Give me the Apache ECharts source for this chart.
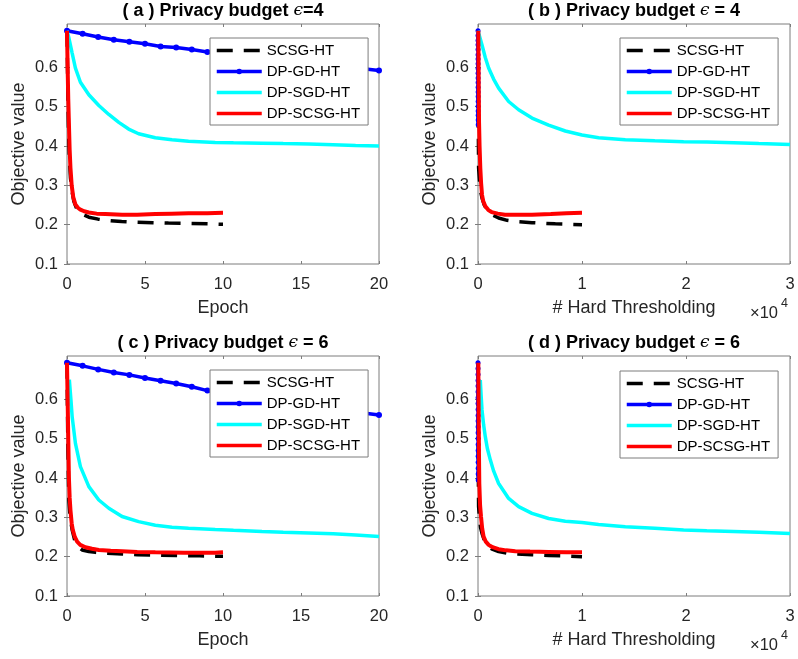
<!DOCTYPE html>
<html>
<head>
<meta charset="utf-8">
<title>Objective value vs epoch / hard thresholding</title>
<script src="https://cdn.jsdelivr.net/npm/echarts@6/dist/echarts.min.js"></script>
<style>
  html, body { margin: 0; padding: 0; background: #fff; }
  #chart { width: 798px; height: 659px; }
</style>
</head>
<body>
<div id="chart"></div>
<script>
// ---- labels ----
const seriesNames = ['SCSG-HT', 'DP-GD-HT', 'DP-SGD-HT', 'DP-SCSG-HT'];
const panelTitles = [
  '( a ) Privacy budget {e|ϵ}=4',
  '( b ) Privacy budget {e|ϵ} = 4',
  '( c ) Privacy budget {e|ϵ} = 6',
  '( d ) Privacy budget {e|ϵ} = 6'
];
const yTicks = [0.1, 0.2, 0.3, 0.4, 0.5, 0.6];
const epochTicks = [0, 5, 10, 15, 20];
const htTicks = [0, 10000, 20000, 30000];

// ---- (a) eps = 4, x = epoch ----
const scsgA_x = [0, 0.05, 0.1, 0.15, 0.22, 0.3, 0.44, 0.6, 0.76, 1.0, 1.4, 2.0, 2.5, 3.5, 4.5, 5.5, 6.5, 7.8, 9, 10];
const scsgA_y = [0.693, 0.55, 0.43, 0.37, 0.32, 0.29, 0.259, 0.243, 0.234, 0.226, 0.219, 0.214, 0.211, 0.208, 0.206, 0.205, 0.204, 0.203, 0.202, 0.201];
const gdA_x = [0, 1, 2, 3, 4, 5, 6, 7, 8, 9, 10, 11, 12, 13, 14, 15, 16, 17, 18, 19, 20];
const gdA_y = [0.693, 0.685, 0.677, 0.670, 0.665, 0.660, 0.653, 0.650, 0.645, 0.639, 0.634, 0.629, 0.625, 0.620, 0.616, 0.612, 0.608, 0.604, 0.600, 0.596, 0.592];
const sgdA_x = [0, 0.12, 0.33, 0.54, 0.86, 1.4, 2.04, 2.68, 3.32, 3.95, 4.59, 5.66, 6.73, 7.79, 9.5, 10.67, 12.5, 13.86, 15.5, 17.06, 18.5, 20];
const sgdA_y = [0.693, 0.675, 0.636, 0.598, 0.562, 0.53, 0.503, 0.48, 0.46, 0.443, 0.431, 0.421, 0.416, 0.412, 0.409, 0.408, 0.407, 0.406, 0.405, 0.403, 0.401, 0.400];
const scsgdpA_x = [0, 0.04, 0.08, 0.12, 0.17, 0.22, 0.3, 0.4, 0.54, 0.7, 0.86, 1.1, 1.4, 1.9, 2.46, 3.53, 4.5, 5.66, 6.7, 7.79, 9, 10];
const scsgdpA_y = [0.693, 0.6, 0.52, 0.46, 0.39, 0.345, 0.3, 0.27, 0.251, 0.243, 0.238, 0.234, 0.231, 0.228, 0.227, 0.225, 0.225, 0.227, 0.228, 0.229, 0.229, 0.230];

// ---- (b) eps = 4, x = # hard thresholding ----
const scsgB_x = [0, 30, 58, 150, 250, 385, 600, 865, 1300, 1984, 2800, 3587, 5192, 7432, 10000];
const scsgB_y = [0.693, 0.45, 0.344, 0.31, 0.285, 0.268, 0.25, 0.238, 0.226, 0.217, 0.211, 0.208, 0.205, 0.202, 0.200];
const gdB_x = [0, 1, 2, 3, 4, 5, 6, 7, 8, 9, 10, 11, 12, 13, 14, 15, 16, 17, 18, 19, 20];
const gdB_y = [0.693, 0.681, 0.668, 0.657, 0.645, 0.632, 0.621, 0.609, 0.597, 0.585, 0.573, 0.561, 0.549, 0.537, 0.526, 0.513, 0.501, 0.489, 0.478, 0.466, 0.454];
const sgdB_x = [0, 125, 385, 700, 1022, 1500, 1984, 2946, 3907, 5192, 6790, 8394, 10000, 11596, 14163, 17000, 19770, 22000, 24577, 27000, 30000];
const sgdB_y = [0.693, 0.688, 0.657, 0.625, 0.598, 0.570, 0.547, 0.513, 0.492, 0.471, 0.453, 0.438, 0.428, 0.421, 0.416, 0.413, 0.411, 0.410, 0.408, 0.406, 0.404];
const scsgdpB_x = [30, 60, 100, 150, 221, 300, 385, 500, 702, 1000, 1308, 1900, 2596, 3500, 5192, 7000, 8500, 10000];
const scsgdpB_y = [0.693, 0.58, 0.46, 0.40, 0.344, 0.305, 0.276, 0.26, 0.247, 0.237, 0.232, 0.228, 0.225, 0.225, 0.225, 0.227, 0.229, 0.230];

// ---- (c) eps = 6, x = epoch ----
const scsgC_x = [0, 0.05, 0.12, 0.2, 0.33, 0.54, 0.75, 0.97, 1.4, 1.82, 2.5, 3.53, 4.5, 5.66, 7, 8.5, 10];
const scsgC_y = [0.693, 0.5, 0.344, 0.3, 0.268, 0.234, 0.224, 0.217, 0.213, 0.211, 0.209, 0.207, 0.205, 0.204, 0.203, 0.202, 0.201];
const gdC_x = [0, 1, 2, 3, 4, 5, 6, 7, 8, 9, 10, 11, 12, 13, 14, 15, 16, 17, 18, 19, 20];
const gdC_y = [0.693, 0.685, 0.676, 0.668, 0.662, 0.654, 0.647, 0.640, 0.632, 0.622, 0.616, 0.610, 0.604, 0.598, 0.592, 0.587, 0.581, 0.576, 0.570, 0.565, 0.560];
const sgdC_x = [0.15, 0.25, 0.33, 0.54, 0.86, 1.4, 2.04, 2.68, 3.53, 4.59, 5.66, 6.73, 7.79, 9.5, 10.67, 12.5, 13.86, 15.5, 17.06, 18.5, 20];
const sgdC_y = [0.650, 0.6, 0.556, 0.488, 0.429, 0.378, 0.344, 0.323, 0.302, 0.289, 0.280, 0.275, 0.272, 0.269, 0.267, 0.264, 0.262, 0.260, 0.258, 0.255, 0.251];
const scsgdpC_x = [0, 0.04, 0.08, 0.12, 0.17, 0.22, 0.3, 0.37, 0.5, 0.65, 0.85, 1.18, 1.6, 2.04, 2.8, 3.53, 4.5, 5.66, 7.5, 9.5, 10];
const scsgdpC_y = [0.693, 0.6, 0.5, 0.403, 0.35, 0.319, 0.285, 0.268, 0.25, 0.238, 0.23, 0.224, 0.22, 0.217, 0.215, 0.214, 0.212, 0.211, 0.210, 0.210, 0.211];

// ---- (d) eps = 6, x = # hard thresholding ----
const scsgD_x = [0, 30, 58, 150, 250, 385, 600, 865, 1300, 1984, 2800, 3587, 5192, 6800, 8394, 10000];
const scsgD_y = [0.693, 0.42, 0.327, 0.295, 0.273, 0.259, 0.242, 0.230, 0.220, 0.213, 0.209, 0.207, 0.205, 0.203, 0.202, 0.200];
const gdD_x = [0, 1, 2, 3, 4, 5, 6, 7, 8, 9, 10, 11, 12, 13, 14, 15, 16, 17, 18, 19, 20];
const gdD_y = [0.693, 0.678, 0.663, 0.648, 0.634, 0.619, 0.604, 0.589, 0.574, 0.559, 0.545, 0.530, 0.515, 0.500, 0.485, 0.470, 0.455, 0.440, 0.425, 0.410, 0.395];
const sgdD_x = [221, 300, 385, 540, 702, 900, 1183, 1500, 1984, 2946, 3907, 5192, 6790, 8394, 10000, 11596, 14163, 17000, 19770, 22000, 24577, 27000, 30000];
const sgdD_y = [0.649, 0.61, 0.573, 0.535, 0.505, 0.475, 0.446, 0.418, 0.386, 0.348, 0.327, 0.310, 0.297, 0.290, 0.287, 0.282, 0.276, 0.272, 0.268, 0.266, 0.264, 0.262, 0.259];
const scsgdpD_x = [30, 60, 90, 125, 200, 288, 400, 538, 750, 1022, 1400, 1984, 2700, 3587, 5000, 6790, 8500, 10000];
const scsgdpD_y = [0.693, 0.58, 0.47, 0.386, 0.33, 0.302, 0.272, 0.251, 0.238, 0.230, 0.224, 0.219, 0.216, 0.214, 0.213, 0.212, 0.211, 0.211];

const panelData = [
  [[scsgA_x, scsgA_y], [gdA_x, gdA_y], [sgdA_x, sgdA_y], [scsgdpA_x, scsgdpA_y]],
  [[scsgB_x, scsgB_y], [gdB_x, gdB_y], [sgdB_x, sgdB_y], [scsgdpB_x, scsgdpB_y]],
  [[scsgC_x, scsgC_y], [gdC_x, gdC_y], [sgdC_x, sgdC_y], [scsgdpC_x, scsgdpC_y]],
  [[scsgD_x, scsgD_y], [gdD_x, gdD_y], [sgdD_x, sgdD_y], [scsgdpD_x, scsgdpD_y]]
];

const FONT = 'Liberation Sans, Arial, sans-serif';
const AXIS_COLOR = '#7d7d7d';
const TEXT_COLOR = '#262626';

const grids = [
  { left: 67, top: 24 },
  { left: 478, top: 24 },
  { left: 67, top: 356 },
  { left: 478, top: 356 }
];
const legendPos = [
  { left: 210, top: 38 },
  { left: 620, top: 38 },
  { left: 210, top: 370 },
  { left: 620, top: 371 }
];

const lineStyles = [
  { color: '#000000', width: 3.5, type: [16, 11] },
  { color: '#0000ff', width: 3.5, type: 'solid' },
  { color: '#00ffff', width: 3.5, type: 'solid' },
  { color: '#ff0000', width: 4, type: 'solid' }
];

function pairs(xs, ys) {
  return xs.map((x, i) => [x, ys[i]]);
}

const isHT = (p) => p % 2 === 1;

const xAxes = [];
const yAxes = [];
const series = [];
const legends = [];
const graphics = [];

// legend entries: only DP-GD-HT keeps its marker
const legendItems = seriesNames.map((name, s) =>
  s === 1
    ? { name }
    : { name, itemStyle: { color: 'rgba(0,0,0,0)', borderWidth: 0, opacity: 0 } }
);

grids.forEach((g, p) => {
  const xMax = isHT(p) ? 30000 : 20;
  const xTicks = isHT(p) ? htTicks : epochTicks;
  xAxes.push({
    gridIndex: p,
    type: 'value',
    min: 0,
    max: xMax,
    name: isHT(p) ? '# Hard Thresholding' : 'Epoch',
    nameLocation: 'middle',
    nameGap: 35,
    nameTextStyle: { fontFamily: FONT, fontSize: 18, color: TEXT_COLOR },
    axisLine: { show: false },
    axisTick: { show: true, inside: true, length: 3, customValues: xTicks, lineStyle: { color: AXIS_COLOR } },
    axisLabel: {
      customValues: xTicks,
      margin: 12,
      fontFamily: FONT,
      fontSize: 16.5,
      color: TEXT_COLOR,
      formatter: (v) => (isHT(p) ? String(v / 10000) : String(v))
    },
    splitLine: { show: false }
  });
  yAxes.push({
    gridIndex: p,
    type: 'value',
    min: 0.1,
    max: 0.71,
    name: 'Objective value',
    nameLocation: 'middle',
    nameGap: 39,
    nameRotate: 90,
    nameTextStyle: { fontFamily: FONT, fontSize: 18, color: TEXT_COLOR },
    axisLine: { show: false },
    axisTick: { show: true, inside: true, length: 3, customValues: yTicks, lineStyle: { color: AXIS_COLOR } },
    axisLabel: {
      customValues: yTicks,
      margin: 9,
      fontFamily: FONT,
      fontSize: 16.5,
      color: TEXT_COLOR,
      formatter: (v) => v.toFixed(1)
    },
    splitLine: { show: false }
  });

  panelData[p].forEach((d, s) => {
    const isGD = s === 1;
    series.push({
      name: seriesNames[s],
      type: 'line',
      xAxisIndex: p,
      yAxisIndex: p,
      data: pairs(d[0], d[1]),
      symbol: isGD ? 'circle' : 'none',
      symbolSize: isHT(p) ? 5 : 6,
      showSymbol: isGD,
      itemStyle: { color: lineStyles[s].color },
      lineStyle: lineStyles[s],
      clip: false,
      z: 2 + s * 0.1,
      emphasis: { disabled: true }
    });
  });

  legends.push({
    left: legendPos[p].left,
    top: legendPos[p].top,
    orient: 'vertical',
    data: legendItems,
    backgroundColor: '#ffffff',
    borderColor: AXIS_COLOR,
    borderWidth: 1,
    borderRadius: 0,
    padding: [5, 8, 4, 5],
    itemGap: 6,
    itemWidth: 45,
    itemHeight: 7,
    lineStyle: { width: 3.5 },
    textStyle: { fontFamily: FONT, fontSize: 15, color: '#000' },
    selectedMode: false
  });

  const cx = g.left + 156;
  graphics.push({
    type: 'text',
    x: cx,
    y: g.top - 22,
    z: 10,
    style: {
      text: panelTitles[p],
      align: 'center',
      verticalAlign: 'top',
      fontFamily: FONT,
      fontSize: 18,
      fontWeight: 'bold',
      fill: '#000',
      rich: {
        e: { fontFamily: 'DejaVu Serif', fontStyle: 'italic', fontWeight: 'normal', fontSize: 17, fill: '#000' }
      }
    }
  });
  if (isHT(p)) {
    graphics.push({
      type: 'text', x: 750, y: g.top + 281, z: 10,
      style: { text: '×10', fontFamily: FONT, fontSize: 16.5, fill: TEXT_COLOR, verticalAlign: 'top' }
    });
    graphics.push({
      type: 'text', x: 781, y: g.top + 273, z: 10,
      style: { text: '4', fontFamily: FONT, fontSize: 12.5, fill: TEXT_COLOR, verticalAlign: 'top' }
    });
  }
});

// duplicate axes on top/right to close the MATLAB-style box ticks
grids.forEach((g, p) => {
  const xTicks = isHT(p) ? htTicks : epochTicks;
  xAxes.push({
    gridIndex: p, type: 'value', position: 'top', min: 0, max: isHT(p) ? 30000 : 20,
    axisLine: { show: false }, axisLabel: { show: false }, splitLine: { show: false },
    axisTick: { show: true, inside: true, length: 3, customValues: xTicks, lineStyle: { color: AXIS_COLOR } }
  });
  yAxes.push({
    gridIndex: p, type: 'value', position: 'right', min: 0.1, max: 0.71,
    axisLine: { show: false }, axisLabel: { show: false }, splitLine: { show: false },
    axisTick: { show: true, inside: true, length: 3, customValues: yTicks, lineStyle: { color: AXIS_COLOR } }
  });
});

const chart = echarts.init(document.getElementById('chart'), null, { renderer: 'canvas' });
chart.setOption({
  backgroundColor: '#ffffff',
  animation: false,
  grid: grids.map((g) => ({
    left: g.left, top: g.top, width: 312, height: 240,
    show: true, borderColor: AXIS_COLOR, borderWidth: 1, backgroundColor: '#ffffff'
  })),
  xAxis: xAxes,
  yAxis: yAxes,
  legend: legends,
  series,
  graphic: graphics
});
</script>
</body>
</html>
